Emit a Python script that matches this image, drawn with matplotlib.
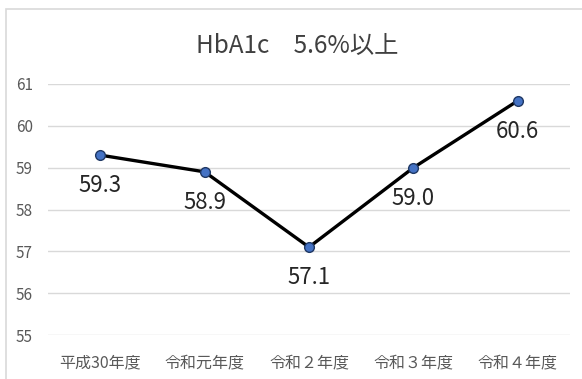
import matplotlib
matplotlib.use("Agg")
import matplotlib.pyplot as plt
from matplotlib.patches import Rectangle

plt.rcParams["font.family"] = ["Noto Sans CJK JP", "DejaVu Sans"]

# data
categories = ["平成30年度", "令和元年度", "令和２年度", "令和３年度", "令和４年度"]
values = [59.3, 58.9, 57.1, 59.0, 60.6]
value_labels = ["59.3", "58.9", "57.1", "59.0", "60.6"]
yticks = [55, 56, 57, 58, 59, 60, 61]
title = "HbA1c　5.6%以上"

W, H = 582, 379
fig = plt.figure(figsize=(W / 100, H / 100), dpi=100)
fig.patch.set_facecolor("white")

# chart border (light grey frame)
fig.patches.append(Rectangle((6 / W, -0.05), 1.1, 1 - 9 / H + 0.05,
                             transform=fig.transFigure, fill=False,
                             edgecolor="#d9d9d9", lw=1.2))

ax = fig.add_axes([48 / W, 1 - 335 / H, (570 - 48) / W, (335 - 84) / H])
x = range(len(categories))
ax.plot(x, values, color="black", lw=2.4, zorder=3,
        marker="o", ms=7, mfc="#4472C4", mec="#1f3864", mew=1)

for xi, v, lab in zip(x, values, value_labels):
    ax.annotate(lab, (xi, v), xytext=(0, -22), textcoords="offset points",
                ha="center", va="center", fontsize=16, color="#262626")

ax.set_xlim(-0.5, len(categories) - 0.5)
ax.set_ylim(55, 61)
ax.set_yticks(yticks)
ax.set_xticks(list(x))
ax.set_xticklabels(categories, fontsize=11.5, color="#595959")
ax.tick_params(axis="y", labelsize=11, labelcolor="#595959", length=0, pad=11)
ax.tick_params(axis="x", length=0, pad=14)
ax.yaxis.grid(True, color="#d9d9d9", lw=1)
ax.set_axisbelow(True)
for s in ax.spines.values():
    s.set_visible(False)

fig.text(297 / W, 1 - 46 / H, title, ha="center", va="center",
         fontsize=17.5, color="#404040")

fig.savefig("out.png", dpi=100)
